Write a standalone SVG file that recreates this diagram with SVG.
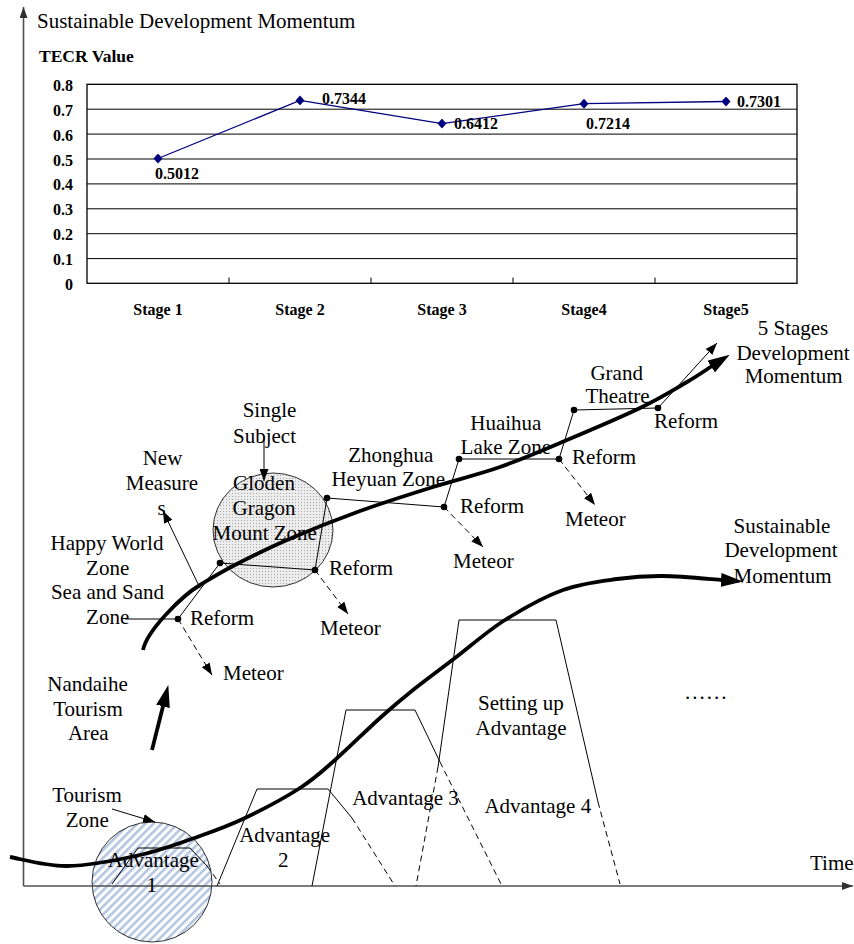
<svg xmlns="http://www.w3.org/2000/svg" width="854" height="944" viewBox="0 0 854 944">
<style>
  text { font-family: "Liberation Serif", "Times New Roman", serif; fill: #000; }
  .lbl { font-size: 21px; text-anchor: middle; }
  .lbs { font-size: 21px; }
  .ch { font-size: 16px; font-weight: bold; }
  .grid { stroke: #000; stroke-width: 1; fill: none; }
  .thin { stroke: #000; stroke-width: 1; fill: none; }
  .dash { stroke: #000; stroke-width: 1; fill: none; stroke-dasharray: 6 4; }
  .thick { stroke: #000; stroke-width: 3.8; fill: none; }
  .axis { stroke: #505050; stroke-width: 1.6; fill: none; }
  .dot { fill: #000; }
</style>
<defs>
  <marker id="diamond" markerUnits="userSpaceOnUse" viewBox="0 0 10 10" markerWidth="10" markerHeight="10" refX="5" refY="5">
    <path d="M5,0 L9.5,5 L5,10 L0.5,5 Z" fill="#000080"/>
  </marker>
  <marker id="arrow" markerUnits="userSpaceOnUse" viewBox="0 0 12 9" markerWidth="12" markerHeight="9" refX="12" refY="4.5" orient="auto">
    <path d="M0,0 L12,4.5 L0,9 Z" fill="#000"/>
  </marker>
  <marker id="arrow-bold" markerUnits="userSpaceOnUse" viewBox="0 0 22 14" markerWidth="22" markerHeight="14" refX="1" refY="7" orient="auto">
    <path d="M0,0 L22,7 L0,14 Z" fill="#000"/>
  </marker>
  <marker id="arrow-axis" markerUnits="userSpaceOnUse" viewBox="0 0 11 8" markerWidth="11" markerHeight="8" refX="11" refY="4" orient="auto">
    <path d="M0,0 L11,4 L0,8 Z" fill="#303030"/>
  </marker>
  <pattern id="stipple" width="3" height="3" patternUnits="userSpaceOnUse">
    <rect width="3" height="3" fill="#ececec"/>
    <rect x="1" y="1" width="1" height="1" fill="#a8a8a8"/>
  </pattern>
  <pattern id="hatch" width="5.7" height="5.7" patternUnits="userSpaceOnUse" patternTransform="rotate(45)">
    <rect width="5.7" height="5.7" fill="#fff"/>
    <rect width="2.6" height="5.7" fill="#b3c6e0"/>
  </pattern>
</defs>

<rect width="854" height="944" fill="#fff"/>

<!-- zone circles (under everything else) -->
<g id="tourism-zone-circle">
  <circle cx="152" cy="882" r="60" fill="url(#hatch)" stroke="#000" stroke-width="0.8"/>
</g>
<g id="gloden-circle">
  <ellipse cx="273" cy="530" rx="60" ry="57" fill="url(#stipple)" stroke="#000" stroke-width="0.8"/>
</g>

<!-- axes -->
<g id="axes">
  <path class="axis" d="M23.5,886 V7" marker-end="url(#arrow-axis)"/>
  <path class="axis" d="M23.5,886 H853" marker-end="url(#arrow-axis)"/>
  <text class="lbs" x="37" y="28">Sustainable Development Momentum</text>
  <text class="lbs" x="810" y="870">Time</text>
</g>

<!-- TECR value chart -->
<g id="tecr-chart">
  <text class="ch" x="39" y="62" style="font-size:17.5px">TECR Value</text>
  <rect x="87" y="84.3" width="710" height="199" fill="none" stroke="#000" stroke-width="1.3"/>
  <path class="grid" d="M87,109.2H797 M87,134.1H797 M87,159H797 M87,183.9H797 M87,208.8H797 M87,233.7H797 M87,258.6H797"/>
  <path class="grid" d="M229,283.3V277.5 M371,283.3V277.5 M513,283.3V277.5 M655,283.3V277.5"/>
  <g class="ch" text-anchor="end">
    <text x="73" y="90.8">0.8</text>
    <text x="73" y="115.7">0.7</text>
    <text x="73" y="140.6">0.6</text>
    <text x="73" y="165.5">0.5</text>
    <text x="73" y="190.4">0.4</text>
    <text x="73" y="215.3">0.3</text>
    <text x="73" y="240.2">0.2</text>
    <text x="73" y="265.1">0.1</text>
    <text x="73" y="290">0</text>
  </g>
  <polyline points="158,158.5 300,100.4 442,123.6 584,103.7 726,101.5" fill="none" stroke="#000080" stroke-width="1.3" marker-start="url(#diamond)" marker-mid="url(#diamond)" marker-end="url(#diamond)"/>
  <g class="ch">
    <text x="155" y="179">0.5012</text>
    <text x="322" y="104">0.7344</text>
    <text x="454" y="129">0.6412</text>
    <text x="586" y="128.7">0.7214</text>
    <text x="737" y="107.3">0.7301</text>
  </g>
  <g class="ch" text-anchor="middle">
    <text x="158" y="315">Stage 1</text>
    <text x="300" y="315">Stage 2</text>
    <text x="442" y="315">Stage 3</text>
    <text x="584" y="315">Stage4</text>
    <text x="726" y="315">Stage5</text>
  </g>
</g>

<!-- advantage trapezoids -->
<g id="advantage-1">
  <path class="thin" d="M112,884 L138,848 H190 L207,866"/>
  <path class="dash" d="M207,866 L220,884"/>
</g>
<g id="advantage-2">
  <path class="thin" d="M217,886 L257,789 H328 L352,818"/>
  <path class="dash" d="M352,818 L395,886"/>
</g>
<g id="advantage-3">
  <path class="thin" d="M312,886 L346,710 H415 L440,762"/>
  <path class="dash" d="M440,762 L502,886"/>
</g>
<g id="advantage-4">
  <path class="thin" d="M438,767 L459,620 H556 L598,802"/>
  <path class="dash" d="M438,767 L416,886 M598,802 L620,884"/>
</g>

<!-- connectors -->
<g id="connectors">
  <path class="thin" d="M125,619 H178 L220,563 L315,570 L327,498 L444,507 L459,459 H559 L574,410 L658,408 L717,343" marker-end="url(#arrow)"/>
  <path class="dash" d="M178,619 L212,675" marker-end="url(#arrow)"/>
  <path class="dash" d="M315,570 L348,614" marker-end="url(#arrow)"/>
  <path class="dash" d="M444,507 L483,547" marker-end="url(#arrow)"/>
  <path class="dash" d="M559,459 L595,505" marker-end="url(#arrow)"/>
  <path class="thin" d="M264,436 V481" marker-end="url(#arrow)"/>
  <path class="thin" d="M200,588 L163,511" marker-end="url(#arrow)"/>
  <path class="thin" d="M112,809 L155,822" marker-end="url(#arrow)"/>
  <path class="thick" d="M152,750 L163.2,705.4" marker-end="url(#arrow-bold)"/>
  <!-- sustainable development momentum curve -->
  <path class="thick" d="M10,857 C19.5,858.5 45.3,866.3 67,866 C88.7,865.7 117.8,860 140,855 C162.2,850 182.5,842.2 200,836 C217.5,829.8 228.3,826 245,818 C261.7,810 285,797.7 300,788 C315,778.3 321.7,771.7 335,760 C348.3,748.3 367,729.7 380,718 C393,706.3 400.5,700 413,690 C425.5,680 439.7,669.7 455,658 C470.3,646.3 487,631.3 505,620 C523,608.7 544.3,596.8 563,590 C581.7,583.2 600.3,581.3 617,579 C633.7,576.7 645.5,575.8 663,576 C680.5,576.2 712.2,579.3 722,580" marker-end="url(#arrow-bold)"/>
  <!-- 5 stages development momentum curve -->
  <path class="thick" d="M143,650 C147,630 182.5,595.5 200,585 C211.7,578 218.5,573.5 233,566 C247.5,558.5 265.8,549.2 287,540 C308.2,530.8 335.7,519.8 360,511 C384.3,502.2 409.7,494.3 433,487 C456.3,479.7 477.7,474.8 500,467 C522.3,459.2 543.7,449.8 567,440 C590.3,430.2 620,417.7 640,408 C660,398.3 675,389 687,382 C699,375 707.8,368.7 712,366" marker-end="url(#arrow-bold)"/>
</g>

<!-- reform points -->
<g id="reform-points">
  <circle class="dot" cx="178" cy="619" r="3.3"/>
  <circle class="dot" cx="220" cy="563" r="3.3"/>
  <circle class="dot" cx="315" cy="570" r="3.3"/>
  <circle class="dot" cx="327" cy="498" r="3.3"/>
  <circle class="dot" cx="444" cy="507" r="3.3"/>
  <circle class="dot" cx="459" cy="459" r="3.3"/>
  <circle class="dot" cx="559" cy="459" r="3.3"/>
  <circle class="dot" cx="574" cy="410" r="3.3"/>
  <circle class="dot" cx="658" cy="408" r="3.3"/>
</g>

<!-- labels -->
<g id="single-subject"><text class="lbl" x="269.5" y="417">Single</text><text class="lbl" x="264.5" y="443">Subject</text></g>
<g id="gloden-gragon"><text class="lbl" x="264" y="490">Gloden</text><text class="lbl" x="264" y="515">Gragon</text><text class="lbl" x="264.7" y="540">Mount Zone</text></g>
<g id="new-measures"><text class="lbl" x="162.5" y="465">New</text><text class="lbl" x="162" y="490">Measure</text><text class="lbl" x="161.7" y="515">s</text></g>
<g id="happy-world"><text class="lbl" x="107" y="550">Happy World</text><text class="lbl" x="107.7" y="575">Zone</text></g>
<g id="sea-and-sand"><text class="lbl" x="107.5" y="599">Sea and Sand</text><text class="lbl" x="107.7" y="624">Zone</text></g>
<g id="zhonghua"><text class="lbl" x="390.8" y="462">Zhonghua</text><text class="lbl" x="388.3" y="486">Heyuan Zone</text></g>
<g id="huaihua"><text class="lbl" x="505.8" y="430">Huaihua</text><text class="lbl" x="505.8" y="454">Lake Zone</text></g>
<g id="grand-theatre"><text class="lbl" x="616.7" y="380">Grand</text><text class="lbl" x="617.5" y="403">Theatre</text></g>
<g id="five-stages"><text class="lbl" x="793" y="335">5 Stages</text><text class="lbl" x="793" y="360">Development</text><text class="lbl" x="793.7" y="383">Momentum</text></g>
<g id="sustainable"><text class="lbl" x="782" y="533">Sustainable</text><text class="lbl" x="781" y="557">Development</text><text class="lbl" x="782.5" y="583">Momentum</text></g>
<g id="nandaihe"><text class="lbl" x="87.5" y="691">Nandaihe</text><text class="lbl" x="88" y="716">Tourism</text><text class="lbl" x="88.3" y="740">Area</text></g>
<g id="tourism-zone"><text class="lbl" x="87" y="802">Tourism</text><text class="lbl" x="87.3" y="827">Zone</text></g>
<g id="advantage-labels">
  <text class="lbl" x="153.3" y="867">Advantage</text><text class="lbl" x="151.7" y="892">1</text>
  <text class="lbl" x="284.7" y="842">Advantage</text><text class="lbl" x="283.3" y="867">2</text>
  <text class="lbl" x="405.5" y="805">Advantage 3</text>
  <text class="lbl" x="521" y="710">Setting up</text><text class="lbl" x="521" y="735">Advantage</text>
  <text class="lbl" x="537.8" y="813">Advantage 4</text>
  <text class="lbs" x="685" y="699" letter-spacing="2">......</text>
</g>
<g id="reform-labels">
  <text class="lbs" x="190" y="625">Reform</text>
  <text class="lbs" x="329" y="575">Reform</text>
  <text class="lbs" x="460" y="513">Reform</text>
  <text class="lbs" x="572" y="464">Reform</text>
  <text class="lbs" x="654" y="428">Reform</text>
</g>
<g id="meteor-labels">
  <text class="lbs" x="223" y="680">Meteor</text>
  <text class="lbs" x="320" y="635">Meteor</text>
  <text class="lbs" x="453" y="568">Meteor</text>
  <text class="lbs" x="565" y="526">Meteor</text>
</g>
</svg>
